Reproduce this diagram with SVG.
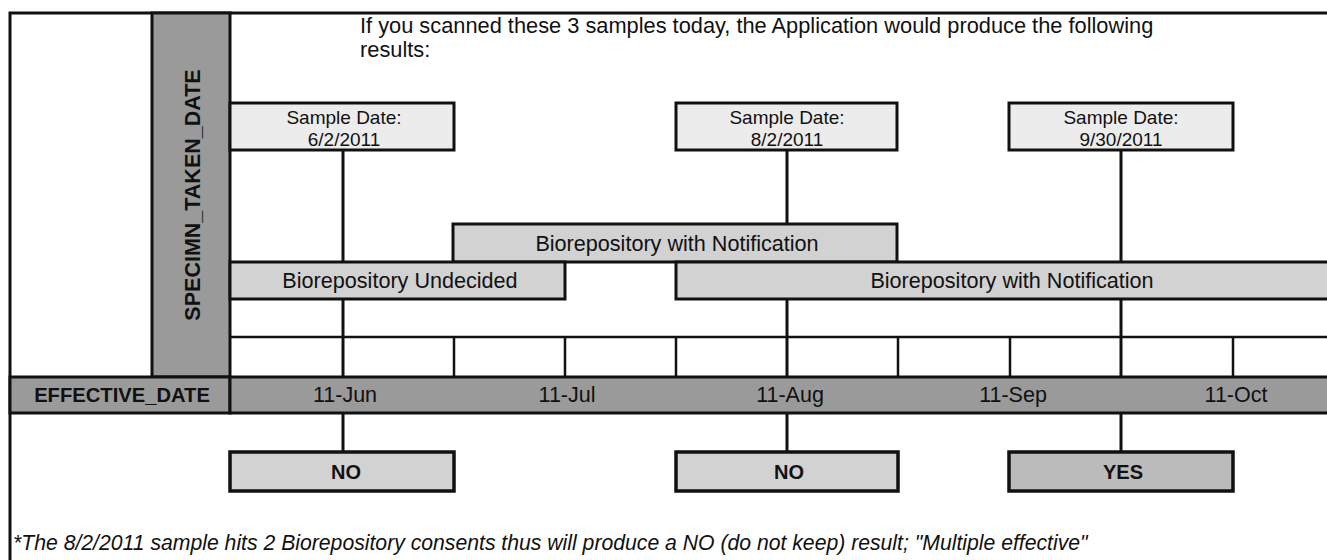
<svg xmlns="http://www.w3.org/2000/svg" width="1327" height="560" viewBox="0 0 1327 560">
<style>
  .t { font-family: "Liberation Sans", Arial, sans-serif; fill: #111; }
  .b { font-weight: bold; }
  .ln { stroke: #111; stroke-width: 3; fill: none; }
  .thin { stroke: #111; stroke-width: 2.5; fill: none; }
  .sample { fill: #ececec; stroke: #111; stroke-width: 3; }
  .bar { fill: #d2d2d2; stroke: #111; stroke-width: 3; }
  .gray { fill: #9a9a9a; stroke: #111; stroke-width: 3; }
  .no { fill: #d2d2d2; stroke: #111; stroke-width: 3.5; }
  .yes { fill: #bbbbbb; stroke: #111; stroke-width: 3.5; }
</style>
<rect x="0" y="0" width="1327" height="560" fill="#ffffff"/>

<g id="frame">
  <path class="ln" d="M10,580 L10,13 L1340,13"/>
</g>

<g id="connectors">
  <line class="ln" x1="343" y1="150" x2="343" y2="452"/>
  <line class="ln" x1="787" y1="150" x2="787" y2="452"/>
  <line class="ln" x1="1121" y1="150" x2="1121" y2="452"/>
</g>

<g id="grid">
  <line class="thin" x1="230" y1="337" x2="1340" y2="337"/>
  <line class="thin" x1="454" y1="337" x2="454" y2="377"/>
  <line class="thin" x1="565" y1="337" x2="565" y2="377"/>
  <line class="thin" x1="676" y1="337" x2="676" y2="377"/>
  <line class="thin" x1="898" y1="337" x2="898" y2="377"/>
  <line class="thin" x1="1010" y1="337" x2="1010" y2="377"/>
  <line class="thin" x1="1233" y1="337" x2="1233" y2="377"/>
</g>

<g id="specimn-taken-date">
  <rect class="gray" x="152" y="13" width="78" height="364"/>
  <text class="t b" font-size="21.5" text-anchor="middle" transform="translate(200,195) rotate(-90)">SPECIMN_TAKEN_DATE</text>
</g>

<g id="intro-text">
  <text class="t" font-size="21.8" x="360" y="33">If you scanned these 3 samples today, the Application would produce the following</text>
  <text class="t" font-size="21.8" x="360" y="57">results:</text>
</g>

<g id="sample-1">
  <rect class="sample" x="230" y="103" width="224" height="47"/>
  <text class="t" font-size="19" text-anchor="middle" x="344" y="124">Sample Date:</text>
  <text class="t" font-size="19" text-anchor="middle" x="344" y="146">6/2/2011</text>
</g>
<g id="sample-2">
  <rect class="sample" x="676" y="103" width="221" height="47"/>
  <text class="t" font-size="19" text-anchor="middle" x="787" y="124">Sample Date:</text>
  <text class="t" font-size="19" text-anchor="middle" x="787" y="146">8/2/2011</text>
</g>
<g id="sample-3">
  <rect class="sample" x="1009" y="103" width="224" height="47"/>
  <text class="t" font-size="19" text-anchor="middle" x="1121" y="124">Sample Date:</text>
  <text class="t" font-size="19" text-anchor="middle" x="1121" y="146">9/30/2011</text>
</g>

<g id="consent-notification-1">
  <rect class="bar" x="453" y="224" width="444" height="38"/>
  <text class="t" font-size="21.6" text-anchor="middle" x="677" y="251">Biorepository with Notification</text>
</g>
<g id="consent-undecided">
  <rect class="bar" x="230" y="262" width="335" height="37"/>
  <text class="t" font-size="21.6" text-anchor="middle" x="400" y="288">Biorepository Undecided</text>
</g>
<g id="consent-notification-2">
  <rect class="bar" x="676" y="262" width="700" height="37"/>
  <text class="t" font-size="21.6" text-anchor="middle" x="1012" y="288">Biorepository with Notification</text>
</g>

<g id="effective-date">
  <rect class="gray" x="10" y="377" width="220" height="36"/>
  <rect class="gray" x="230" y="377" width="1120" height="36"/>
  <text class="t b" font-size="20.2" text-anchor="middle" x="122" y="402">EFFECTIVE_DATE</text>
  <text class="t" font-size="21.5" text-anchor="middle" x="345" y="402">11-Jun</text>
  <text class="t" font-size="21.5" text-anchor="middle" x="567" y="402">11-Jul</text>
  <text class="t" font-size="21.5" text-anchor="middle" x="790" y="402">11-Aug</text>
  <text class="t" font-size="21.5" text-anchor="middle" x="1013" y="402">11-Sep</text>
  <text class="t" font-size="21.5" text-anchor="middle" x="1236" y="402">11-Oct</text>
</g>

<g id="result-1">
  <rect class="no" x="230" y="452" width="224" height="39"/>
  <text class="t b" font-size="20" text-anchor="middle" x="346" y="479">NO</text>
</g>
<g id="result-2">
  <rect class="no" x="676" y="452" width="222" height="39"/>
  <text class="t b" font-size="20" text-anchor="middle" x="789" y="479">NO</text>
</g>
<g id="result-3">
  <rect class="yes" x="1009" y="452" width="224" height="39"/>
  <text class="t b" font-size="20" text-anchor="middle" x="1123" y="479">YES</text>
</g>

<g id="footnote">
  <text class="t" font-size="21.2" font-style="italic" x="13" y="550">*The 8/2/2011 sample hits 2 Biorepository consents thus will produce a NO (do not keep) result; "Multiple effective"</text>
</g>
</svg>
